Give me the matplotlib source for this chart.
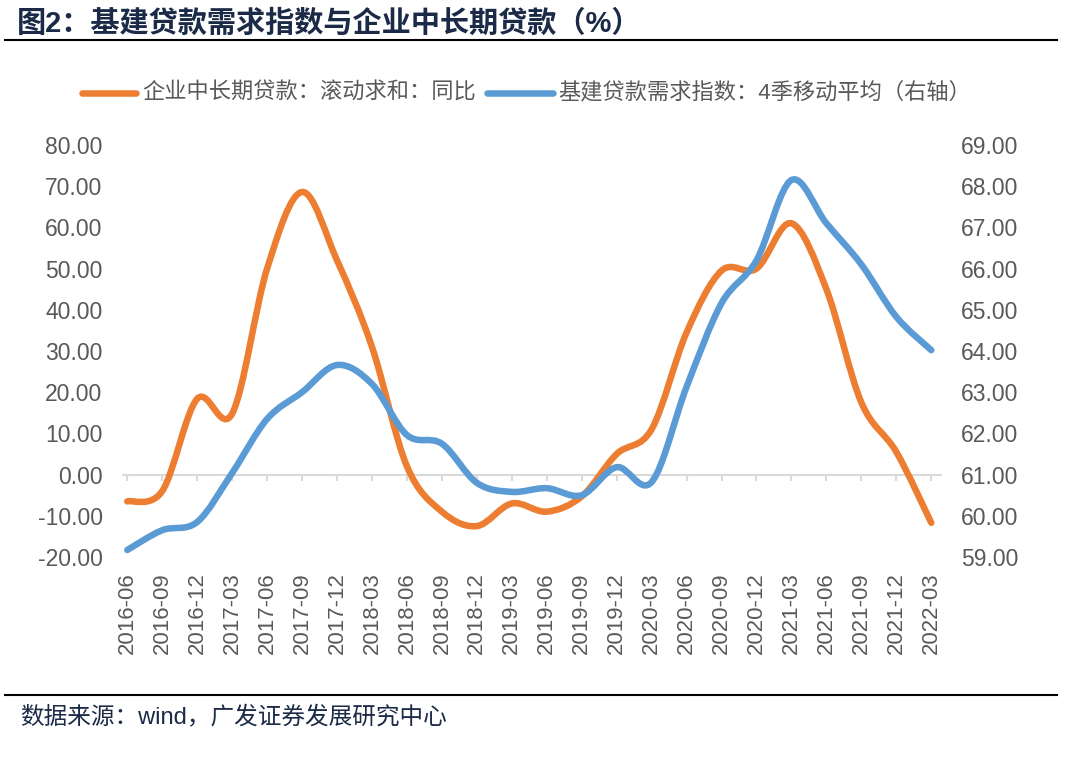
import numpy as np
import matplotlib
matplotlib.use('Agg')
import matplotlib.pyplot as plt
from matplotlib.path import Path
from matplotlib.patches import PathPatch

plt.rcParams['font.family'] = ['Liberation Sans', 'Noto Sans CJK SC', 'DejaVu Sans']

# 季度标签
quarters = ['2016-06', '2016-09', '2016-12', '2017-03', '2017-06', '2017-09', '2017-12',
            '2018-03', '2018-06', '2018-09', '2018-12', '2019-03', '2019-06', '2019-09',
            '2019-12', '2020-03', '2020-06', '2020-09', '2020-12', '2021-03', '2021-06',
            '2021-09', '2021-12', '2022-03']

# 企业中长期贷款：滚动求和：同比（左轴）
loan_yoy = [-6.5, -4.0, 18.4, 14.8, 50.0, 68.6, 52.0, 31.0, 2.0, -9.0, -12.5, -7.0,
            -9.0, -5.3, 5.0, 11.0, 34.5, 49.5, 50.0, 61.0, 45.0, 17.5, 5.5, -11.7]

# 基建贷款需求指数：4季移动平均（右轴）
infra_idx = [59.17, 59.65, 59.85, 61.04, 62.35, 63.0, 63.66, 63.2, 61.96, 61.75, 60.8,
             60.58, 60.67, 60.5, 61.18, 60.82, 63.13, 65.16, 66.2, 68.15, 67.1, 66.1,
             64.83, 64.02]

left_ticks = np.arange(-20, 81, 10)
right_ticks = np.arange(59, 70, 1)

orange = '#ED7D31'
blue = '#5B9BD5'
grey_txt = '#595959'


# 类似 Excel 的平滑折线（贝塞尔曲线）
def smooth_path(x, y):
    x = np.asarray(x, float)
    y = np.asarray(y, float)
    n = len(x)
    verts = [(x[0], y[0])]
    codes = [Path.MOVETO]
    for i in range(n - 1):
        i0 = max(i - 1, 0)
        i3 = min(i + 2, n - 1)
        c1 = (x[i] + (x[i + 1] - x[i0]) / 6, y[i] + (y[i + 1] - y[i0]) / 6)
        c2 = (x[i + 1] - (x[i3] - x[i]) / 6, y[i + 1] - (y[i3] - y[i]) / 6)
        verts += [c1, c2, (x[i + 1], y[i + 1])]
        codes += [Path.CURVE4] * 3
    return Path(verts, codes)


fig = plt.figure(figsize=(10.8, 7.69), dpi=100)
ax = fig.add_axes([0.113, 0.2757, 0.759, 0.5357])
ax2 = ax.twinx()

xs = np.arange(len(quarters))
ax.add_patch(PathPatch(smooth_path(xs, loan_yoy), fill=False, edgecolor=orange, lw=4.7,
                       capstyle='round', joinstyle='round', zorder=3))
ax2.add_patch(PathPatch(smooth_path(xs, infra_idx), fill=False, edgecolor=blue, lw=4.7,
                        capstyle='round', joinstyle='round', zorder=3))

ax.set_xlim(-0.15, len(quarters) - 1 + 0.3)
ax.set_ylim(-20, 80)
ax2.set_ylim(59, 69)

# 零轴与刻度
ax.axhline(0, color='#d9d9d9', lw=1.5, zorder=1)
ax.vlines(xs, -1.6, 0, color='#d9d9d9', lw=1.5, zorder=1)

ax.set_xticks(xs)
ax.set_xticklabels(quarters, rotation=90, fontsize=16, color=grey_txt)
ax.set_yticks(left_ticks)
ax.set_yticklabels(['%.2f' % v for v in left_ticks], fontsize=16.5, color=grey_txt)
ax2.set_yticks(right_ticks)
ax2.set_yticklabels(['%.2f' % v for v in right_ticks], fontsize=16.5, color=grey_txt)
ax.tick_params(axis='x', length=0, pad=11)
ax.tick_params(axis='y', length=0, pad=14)
ax2.tick_params(axis='y', length=0, pad=14)
for a in (ax, ax2):
    for s in a.spines.values():
        s.set_visible(False)

# 标题
fig.text(0.016, 0.988, '图2：基建贷款需求指数与企业中长期贷款（%）', fontsize=21, fontweight='bold',
         color='#1b2a47', ha='left', va='top')
fig.add_artist(plt.Line2D([0.005, 0.979], [0.948, 0.948], color='black', lw=1.5))

# 图例
fig.add_artist(plt.Line2D([0.076, 0.126], [0.879, 0.879], color=orange, lw=4.7,
                          solid_capstyle='round'))
fig.text(0.132, 0.879, '企业中长期贷款：滚动求和：同比', fontsize=16, color=grey_txt, va='center')
fig.add_artist(plt.Line2D([0.451, 0.512], [0.879, 0.879], color=blue, lw=4.7,
                          solid_capstyle='round'))
fig.text(0.517, 0.879, '基建贷款需求指数：4季移动平均（右轴）', fontsize=16, color=grey_txt, va='center')

# 数据来源
fig.add_artist(plt.Line2D([0.005, 0.979], [0.096, 0.096], color='black', lw=1.5))
fig.text(0.019, 0.066, '数据来源：wind，广发证券发展研究中心', fontsize=17, color='#1b2a47',
         ha='left', va='center')

fig.savefig('out.png', dpi=100)
